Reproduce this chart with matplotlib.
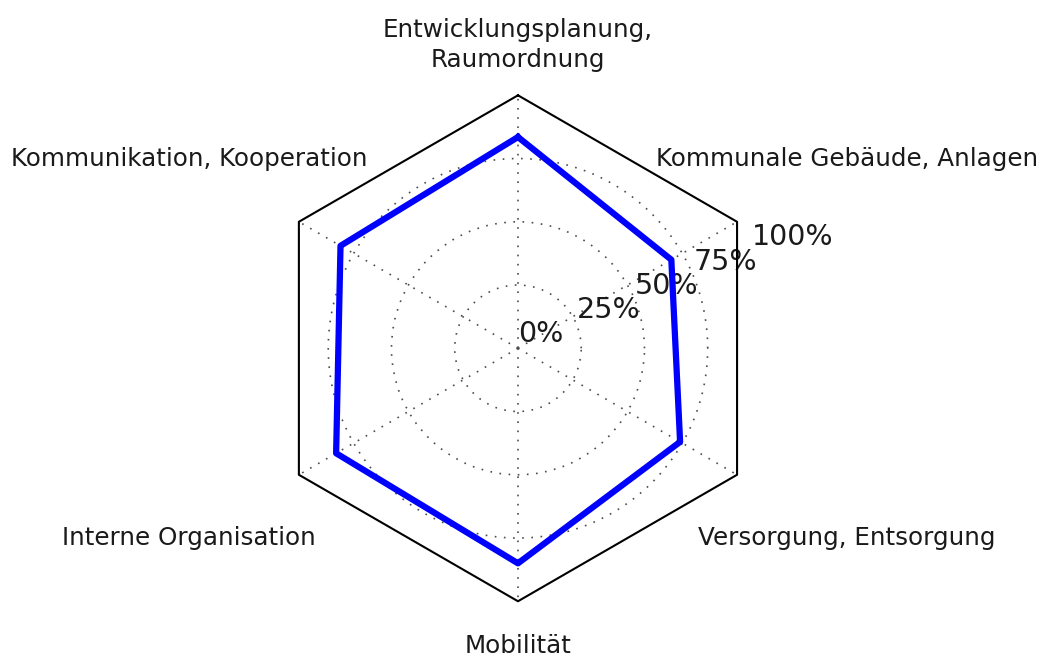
import numpy as np
import matplotlib
matplotlib.use("Agg")
import matplotlib.pyplot as plt

categories = ["Entwicklungsplanung,\nRaumordnung",
              "Kommunale Gebäude, Anlagen",
              "Versorgung, Entsorgung",
              "Mobilität",
              "Interne Organisation",
              "Kommunikation, Kooperation"]
values = [83.5, 70, 74, 85, 83, 81]
r_ticks = [0, 25, 50, 75, 100]
r_ticklabels = ["0%", "25%", "50%", "75%", "100%"]

n = len(categories)
# clockwise from top
theta = np.pi / 2 - np.arange(n) * 2 * np.pi / n

fig = plt.figure(figsize=(10.40, 6.59), dpi=100)
ax = fig.add_axes([0.2548, 0.0876, 0.4865, 0.7678], projection="polar")
ax.set_ylim(0, 100)
ax.spines["polar"].set_visible(False)

ax.set_xticks(theta % (2 * np.pi))
ax.set_xticklabels([])
ax.xaxis.grid(True, color="0.3", linestyle=(0, (1, 4.5)), linewidth=1.2)
ax.set_yticks(r_ticks)
ax.set_yticklabels(r_ticklabels, fontsize=20.5, color="0.1")
ax.yaxis.grid(True, color="0.3", linestyle=(0, (1, 4.5)), linewidth=1.2)
ax.yaxis.get_gridlines()[-1].set_visible(False)
ax.set_rlabel_position(22.5)

# hexagonal frame
th_closed = np.append(theta, theta[0])
ax.plot(th_closed, [100] * (n + 1), color="black", linewidth=1.5, clip_on=False, zorder=3)

# data polygon
v_closed = values + values[:1]
ax.plot(th_closed, v_closed, color="blue", linewidth=4.5, zorder=4)

# category labels
label_r = [120, 150, 150, 117.5, 150, 150]
for t, lab, rr in zip(theta, categories, label_r):
    ax.text(t, rr, lab, ha="center", va="center", fontsize=17.7, color="0.1",
            linespacing=1.3, clip_on=False)

fig.savefig("out.png", dpi=100, facecolor="white")
